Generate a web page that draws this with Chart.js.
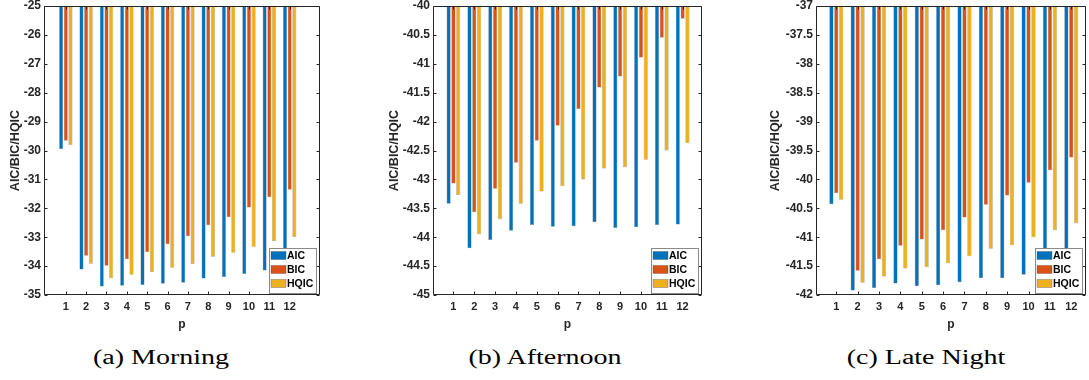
<!DOCTYPE html>
<html>
<head>
<meta charset="utf-8">
<script src="https://cdn.jsdelivr.net/npm/chart.js@4.4.1/dist/chart.umd.min.js"></script>
<style>
  html, body { margin: 0; padding: 0; background: #fff; }
  #page { position: relative; width: 1089px; height: 380px; overflow: hidden; }
  .panel { position: absolute; top: 0; }
  .caption {
    position: absolute; top: 347px; line-height: 20px;
    font-family: 'Liberation Serif', 'Times New Roman', serif; font-size: 20px; color: #000;
    white-space: nowrap; transform: translateX(-50%) scaleX(1.4);
  }
</style>
</head>
<body>
<div id="page"></div>
<script>
// x categories (lag order p)
const pValues = [1, 2, 3, 4, 5, 6, 7, 8, 9, 10, 11, 12];
const seriesNames = ['AIC', 'BIC', 'HQIC'];
const seriesColors = ['#0072BD', '#D95319', '#EDB120'];

// (a) Morning
const morningAIC  = [-29.95, -34.12, -34.71, -34.68, -34.65, -34.61, -34.58, -34.43, -34.38, -34.27, -34.15, -34.05];
const morningBIC  = [-29.66, -33.64, -33.99, -33.76, -33.51, -33.24, -32.97, -32.59, -32.31, -31.97, -31.62, -31.36];
const morningHQIC = [-29.81, -33.92, -34.42, -34.30, -34.20, -34.06, -33.93, -33.68, -33.54, -33.33, -33.13, -32.99];
const morningY = [-35, -25, 1];

// (b) Afternoon
const afternoonAIC  = [-43.42, -44.19, -44.05, -43.89, -43.79, -43.82, -43.81, -43.74, -43.84, -43.83, -43.79, -43.78];
const afternoonBIC  = [-43.07, -43.57, -43.16, -42.71, -42.33, -42.07, -41.78, -41.41, -41.22, -40.89, -40.55, -40.22];
const afternoonHQIC = [-43.27, -43.95, -43.69, -43.42, -43.21, -43.12, -43.00, -42.81, -42.79, -42.66, -42.50, -42.37];
const afternoonY = [-45, -40, 0.5];

// (c) Late Night
const lateAIC  = [-40.43, -41.92, -41.88, -41.80, -41.85, -41.83, -41.78, -41.71, -41.71, -41.65, -41.60, -41.58];
const lateBIC  = [-40.24, -41.58, -41.38, -41.15, -41.04, -40.88, -40.66, -40.44, -40.28, -40.06, -39.84, -39.62];
const lateHQIC = [-40.35, -41.79, -41.68, -41.54, -41.52, -41.45, -41.33, -41.20, -41.14, -41.00, -40.88, -40.76];
const lateY = [-42, -37, 0.5];

const captions = ['(a) Morning', '(b) Afternoon', '(c) Late Night'];

const ink = '#262626';
const sans = "'Liberation Sans', Arial, sans-serif";

// draws the axes box with inward ticks, like MATLAB
const frame = {
  id: 'frame',
  afterDatasetsDraw(chart) {
    const { ctx, chartArea: a, scales: { x, y } } = chart;
    const L = a.left + 0.5, R = a.right - 0.5, T = a.top + 0.5, B = a.bottom - 0.5;
    ctx.save();
    ctx.strokeStyle = ink;
    ctx.lineWidth = 1;
    ctx.beginPath();
    ctx.rect(L, T, R - L, B - T);
    y.ticks.forEach(t => {
      const py = Math.round(y.getPixelForValue(t.value)) + 0.5;
      ctx.moveTo(L, py); ctx.lineTo(L + 3, py);
      ctx.moveTo(R, py); ctx.lineTo(R - 3, py);
    });
    x.ticks.forEach(t => {
      const px = Math.round(x.getPixelForValue(t.value)) + 0.5;
      ctx.moveTo(px, B); ctx.lineTo(px, B - 3);
      ctx.moveTo(px, T); ctx.lineTo(px, T + 3);
    });
    ctx.stroke();
    ctx.restore();
  }
};

// legend box inside the lower right corner of the axes
const insideLegend = {
  id: 'insideLegend',
  afterDraw(chart) {
    const { ctx, chartArea: a } = chart;
    const w = 47, h = 45;
    const left = Math.round(a.right - 4.5 - w) + 0.5;
    const top = Math.round(a.bottom - 2.5 - h) + 0.5;
    ctx.save();
    ctx.fillStyle = '#fff';
    ctx.fillRect(left, top, w, h);
    ctx.strokeStyle = '#8a8a8a';
    ctx.lineWidth = 1;
    ctx.strokeRect(left, top, w, h);
    ctx.font = 'bold 10.5px ' + sans;
    ctx.textBaseline = 'middle';
    chart.data.datasets.forEach((ds, i) => {
      const cy = top + 7 + i * 14;
      ctx.fillStyle = ds.backgroundColor;
      ctx.fillRect(left + 1.5, cy - 4, 15, 8);
      ctx.strokeStyle = 'rgba(60,60,60,0.6)';
      ctx.lineWidth = 0.5;
      ctx.strokeRect(left + 1.5, cy - 4, 15, 8);
      ctx.fillStyle = '#000';
      ctx.fillText(ds.label, left + 17.5, cy + 0.5);
    });
    ctx.restore();
  }
};

const panels = [
  { left: 0,   width: 330, padRight: 10, axisW: 44, xMin: -0.07, xMax: 13.49, y: morningY,   series: [morningAIC, morningBIC, morningHQIC],       capX: 160.5 },
  { left: 379, width: 331, padRight: 8,  axisW: 54, xMin: 0.02,  xMax: 12.93, y: afternoonY, series: [afternoonAIC, afternoonBIC, afternoonHQIC], capX: 544.5 },
  { left: 760, width: 329, padRight: 3,  axisW: 56, xMin: 0.05,  xMax: 12.69, y: lateY,      series: [lateAIC, lateBIC, lateHQIC],                capX: 926 }
];

const page = document.getElementById('page');
const H = 345;

panels.forEach((cfg, k) => {
  const canvas = document.createElement('canvas');
  canvas.width = cfg.width;
  canvas.height = H;
  canvas.style.width = cfg.width + 'px';
  canvas.style.height = H + 'px';
  canvas.className = 'panel';
  canvas.style.left = cfg.left + 'px';
  page.appendChild(canvas);

  new Chart(canvas, {
    type: 'bar',
    data: {
      labels: pValues,
      datasets: cfg.series.map((d, i) => ({
        label: seriesNames[i],
        data: d,
        backgroundColor: seriesColors[i],
        borderColor: 'rgba(50,50,50,0.55)',
        borderWidth: 0.5,
        categoryPercentage: 0.69,
        barPercentage: 0.86
      }))
    },
    options: {
      responsive: false,
      maintainAspectRatio: false,
      animation: false,
      events: [],
      layout: { padding: { top: 6, right: cfg.padRight, left: 0, bottom: 0 } },
      plugins: { legend: { display: false }, tooltip: { enabled: false } },
      scales: {
        x: {
          type: 'linear',
          offset: false,
          min: cfg.xMin,
          max: cfg.xMax,
          grid: { display: false, drawTicks: false },
          border: { display: false },
          ticks: {
            stepSize: 1, includeBounds: false, autoSkip: false, maxRotation: 0,
            padding: 5, color: ink, font: { family: sans, size: 11, weight: 'bold' },
            callback: v => String(v)
          },
          afterBuildTicks: ax => { ax.ticks = ax.ticks.filter(t => t.value >= 1 && t.value <= 12); },
          afterFit: ax => { ax.height = 50; ax.paddingLeft = 0; ax.paddingRight = 0; },
          title: {
            display: true, text: 'p', color: ink,
            font: { family: sans, size: 12, weight: 'bold' },
            padding: { top: 0, bottom: 13.5 }
          }
        },
        y: {
          min: cfg.y[0],
          max: cfg.y[1],
          grid: { display: false, drawTicks: false },
          border: { display: false },
          ticks: {
            stepSize: cfg.y[2], padding: 3, color: ink,
            font: { family: sans, size: 12, weight: 'bold' },
            callback: v => String(v)
          },
          afterFit: ax => { ax.width = cfg.axisW; ax.paddingTop = 0; ax.paddingBottom = 0; },
          title: {
            display: true, text: 'AIC/BIC/HQIC', color: ink,
            font: { family: sans, size: 12.5, weight: 'bold' },
            padding: { top: 8.5, bottom: 0 }
          }
        }
      }
    },
    plugins: [frame, insideLegend]
  });

  const cap = document.createElement('div');
  cap.className = 'caption';
  cap.style.left = cfg.capX + 'px';
  cap.textContent = captions[k];
  page.appendChild(cap);
});
</script>
</body>
</html>
